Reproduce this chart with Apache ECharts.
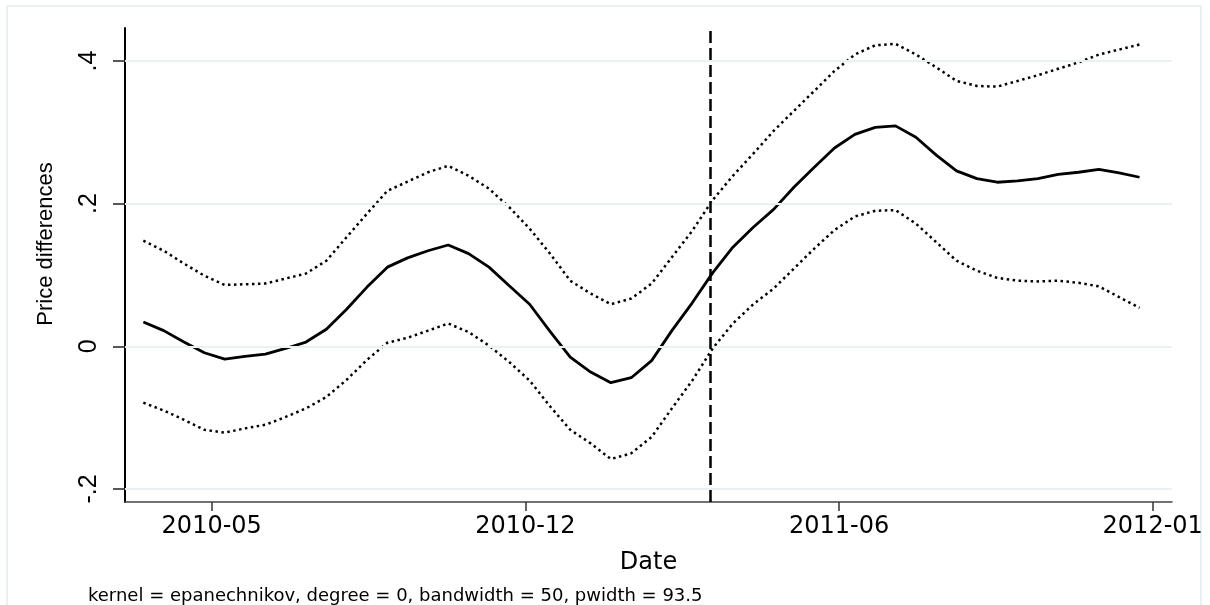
<!DOCTYPE html>
<html>
<head>
<meta charset="utf-8">
<script src="https://cdn.jsdelivr.net/npm/echarts@6/dist/echarts.min.js"></script>
<style>html,body{margin:0;padding:0;background:#fff}#c{width:1210px;height:605px}</style>
</head>
<body>
<div id="c"></div>
<script>
// Dates as Stata daily values (days since 1960-01-01)
const dates = [18356.4,18369.4,18382.3,18395.3,18408.3,18421.2,18434.2,18447.1,18460.1,18473.1,
18486.0,18499.0,18512.0,18524.9,18537.9,18550.8,18563.8,18576.8,18589.7,18602.7,
18615.7,18628.6,18641.6,18654.5,18667.5,18680.5,18693.4,18706.4,18719.4,18732.3,
18745.3,18758.3,18771.2,18784.2,18797.1,18810.1,18823.1,18836.0,18849.0,18862.0,
18874.9,18887.9,18900.8,18913.8,18926.8,18939.7,18952.7,18965.7,18978.6,18991.6];
const smooth = [0.034,0.022,0.006,-0.009,-0.018,-0.014,-0.011,-0.003,0.006,0.024,
0.052,0.083,0.111,0.124,0.134,0.142,0.130,0.111,0.085,0.059,
0.021,-0.015,-0.036,-0.051,-0.044,-0.020,0.022,0.061,0.103,0.139,
0.167,0.192,0.223,0.251,0.278,0.297,0.307,0.309,0.293,0.268,
0.246,0.235,0.230,0.232,0.235,0.241,0.244,0.248,0.243,0.237];
const upperCI = [0.148,0.134,0.116,0.099,0.086,0.087,0.088,0.095,0.102,0.120,
0.153,0.186,0.218,0.231,0.244,0.253,0.239,0.221,0.195,0.165,
0.130,0.092,0.074,0.059,0.067,0.088,0.125,0.162,0.205,0.239,
0.270,0.302,0.330,0.358,0.386,0.409,0.422,0.424,0.409,0.391,
0.372,0.365,0.364,0.372,0.380,0.389,0.398,0.409,0.416,0.423];
const lowerCI = [-0.079,-0.090,-0.103,-0.117,-0.121,-0.115,-0.110,-0.099,-0.087,-0.071,
-0.047,-0.019,0.005,0.012,0.022,0.032,0.020,0.001,-0.022,-0.048,
-0.084,-0.117,-0.136,-0.158,-0.150,-0.127,-0.087,-0.048,-0.003,0.032,
0.059,0.081,0.109,0.137,0.163,0.182,0.190,0.191,0.172,0.146,
0.120,0.106,0.096,0.092,0.091,0.092,0.089,0.084,0.069,0.054];
const xTickValues = [18400, 18600, 18800, 19000];
const xTickLabels = ['2010-05', '2010-12', '2011-06', '2012-01'];
const yTickValues = [-0.2, 0, 0.2, 0.4];
const yTickLabels = ['-.2', '0', '.2', '.4'];
const cutoffDate = 18718;
const footnote = 'kernel = epanechnikov, degree = 0, bandwidth = 50, pwidth = 93.5';
const xTitle = 'Date';
const yTitle = 'Price differences';

const pair = (ys) => dates.map((d, i) => [d, ys[i]]);
const chart = echarts.init(document.getElementById('c'), null, {renderer: 'canvas'});
const gridColor = '#e9f1f3';
chart.setOption({
  animation: false,
  backgroundColor: '#ffffff',
  grid: {left: 125, right: 38, top: 28, bottom: 103, containLabel: false},
  xAxis: {
    type: 'value', min: 18344.7, max: 19012.3,
    name: xTitle, nameLocation: 'middle', nameGap: 49,
    nameTextStyle: {fontFamily: 'DejaVu Sans', fontSize: 24, color: '#000'},
    axisLine: {show: true, onZero: false, lineStyle: {color: '#444', width: 1.5}},
    axisTick: {show: true, inside: false, length: 9, customValues: xTickValues, lineStyle: {color: '#333', width: 1.5}},
    axisLabel: {show: true, margin: 13, customValues: xTickValues, fontFamily: 'DejaVu Sans', fontSize: 24, color: '#000',
      formatter: (v) => { const k = xTickValues.indexOf(v); return k >= 0 ? xTickLabels[k] : ''; }},
    splitLine: {show: false}
  },
  yAxis: {
    type: 'value', min: -0.2182, max: 0.4462,
    axisLine: {show: true, onZero: false, lineStyle: {color: '#000', width: 2}},
    axisTick: {show: true, inside: false, length: 12, customValues: yTickValues, lineStyle: {color: '#222', width: 1.5}},
    axisLabel: {show: true, rotate: 90, margin: 23, customValues: yTickValues, fontFamily: 'Liberation Sans', fontSize: 25, color: '#000',
      formatter: (v) => { let k = -1; yTickValues.forEach((t, j) => { if (Math.abs(t - v) < 1e-9) k = j; }); return k >= 0 ? yTickLabels[k] : ''; }},
    splitLine: {show: false}
  },
  graphic: [
    {type: 'rect', shape: {x: 7, y: 6, width: 1194, height: 640}, style: {fill: 'none', stroke: gridColor, lineWidth: 2}, silent: true, z: -10},
    {type: 'text', x: 46, y: 244, rotation: Math.PI / 2, style: {text: yTitle, fontFamily: 'Liberation Sans', fontSize: 22, fill: '#000', align: 'center', verticalAlign: 'middle'}},
    {type: 'text', x: 88, y: 596, style: {text: footnote, fontFamily: 'DejaVu Sans', fontSize: 18, fill: '#000', align: 'left', verticalAlign: 'middle'}}
  ],
  series: [
    {
      type: 'line', name: 'grid', data: pair(smooth), z: 1, silent: true, showSymbol: false,
      lineStyle: {opacity: 0},
      markLine: {silent: true, symbol: ['none', 'none'], label: {show: false},
        lineStyle: {color: gridColor, width: 2, type: 'solid'},
        data: yTickValues.map(v => ({yAxis: v}))}
    },
    {type: 'line', name: 'upper', data: pair(upperCI), z: 3, showSymbol: false, smooth: false,
      lineStyle: {color: '#000', width: 2.5, type: [2.5, 3.5]}},
    {type: 'line', name: 'lower', data: pair(lowerCI), z: 3, showSymbol: false, smooth: false,
      lineStyle: {color: '#000', width: 2.5, type: [2.5, 3.5]}},
    {type: 'line', name: 'smooth', data: pair(smooth), z: 4, showSymbol: false, smooth: false,
      lineStyle: {color: '#000', width: 2.8, type: 'solid'},
      markLine: {silent: true, symbol: ['none', 'none'], label: {show: false},
        lineStyle: {color: '#000', width: 2.5, type: [12, 5]},
        data: [{xAxis: cutoffDate}]}}
  ]
});
</script>
</body>
</html>
